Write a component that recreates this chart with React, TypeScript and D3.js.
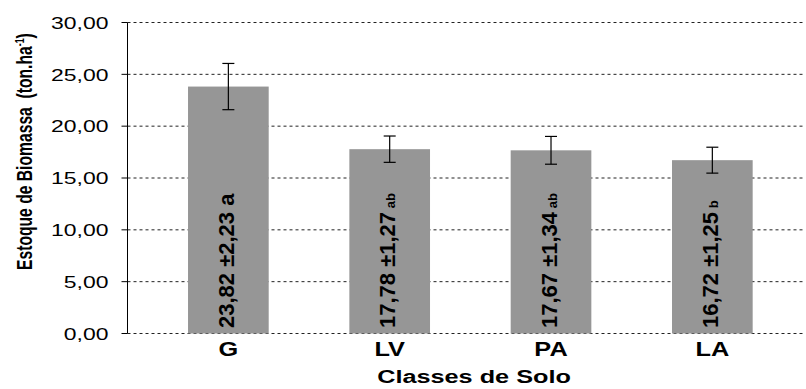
import React from "react";
import * as d3 from "d3";

// Soil classes and biomass stock (mean ± standard error) with Tukey letters
const categories = ["G", "LV", "PA", "LA"];
const means = [23.82, 17.78, 17.67, 16.72];
const errors = [2.23, 1.27, 1.34, 1.25];
const letters = ["a", "ab", "ab", "b"];
const yTicks = [0, 5, 10, 15, 20, 25, 30];

// Letters drawn at full size (true) or as smaller trailing marks (false)
const letterFullSize = [true, false, false, false];

const W = 806;
const H = 389;
const axisX = 127.5;
const gridRight = 805;

const fmt = (v: number) => v.toFixed(2).replace(".", ",");

export default function App() {
  const y = d3.scaleLinear().domain([0, 30]).range([333.5, 22.5]);
  const x = d3
    .scaleBand<string>()
    .domain(categories)
    .range([147.7, 793])
    .paddingInner(0.5)
    .paddingOuter(0.25);

  const font = "'Liberation Sans', Arial, sans-serif";

  return (
    <svg
      width={W}
      height={H}
      style={{ position: "absolute", left: 0, top: 0, background: "#fff" }}
      fontFamily={font}
    >
      {/* horizontal dashed gridlines */}
      {yTicks.map((t) => (
        <line
          key={"g" + t}
          x1={axisX}
          x2={gridRight}
          y1={y(t)}
          y2={y(t)}
          stroke="#222"
          strokeWidth={1}
          strokeDasharray="3,3"
        />
      ))}

      {/* bars */}
      {categories.map((c, i) => (
        <rect
          key={"b" + c}
          x={x(c)}
          y={y(means[i])}
          width={x.bandwidth()}
          height={y(0) - y(means[i])}
          fill="#969696"
        />
      ))}

      {/* error bars */}
      {categories.map((c, i) => {
        const cx = (x(c) as number) + x.bandwidth() / 2;
        const top = y(means[i] + errors[i]);
        const bot = y(means[i] - errors[i]);
        return (
          <g key={"e" + c} stroke="#000" strokeWidth={1.2}>
            <line x1={cx} x2={cx} y1={top} y2={bot} />
            <line x1={cx - 6} x2={cx + 6} y1={top} y2={top} />
            <line x1={cx - 6} x2={cx + 6} y1={bot} y2={bot} />
          </g>
        );
      })}

      {/* value labels inside bars */}
      {categories.map((c, i) => {
        const cx = (x(c) as number) + x.bandwidth() / 2;
        const full = letterFullSize[i];
        return (
          <text
            key={"v" + c}
            transform={`translate(${cx + 5.5},328) rotate(-90)`}
            fontSize={22}
            fontWeight="bold"
            fill="#000"
          >
            {`${fmt(means[i])} ±${fmt(errors[i])}`}
            <tspan fontSize={full ? 22 : 13}>{" " + letters[i]}</tspan>
          </text>
        );
      })}

      {/* y axis */}
      <line x1={axisX} x2={axisX} y1={y(30)} y2={y(0)} stroke="#000" strokeWidth={1} />
      {yTicks.map((t) => (
        <g key={"t" + t}>
          <line x1={axisX - 6} x2={axisX} y1={y(t)} y2={y(t)} stroke="#000" strokeWidth={1} />
          <text
            transform={`translate(108.5,${y(t) + 6.3}) scale(1.35,1)`}
            textAnchor="end"
            fontSize={17}
            fill="#000"
          >
            {fmt(t)}
          </text>
        </g>
      ))}

      {/* category labels */}
      {categories.map((c) => {
        const cx = (x(c) as number) + x.bandwidth() / 2;
        return (
          <text
            key={"c" + c}
            transform={`translate(${cx},355.5) scale(1.3,1)`}
            textAnchor="middle"
            fontSize={19.5}
            fontWeight="bold"
            fill="#000"
          >
            {c}
          </text>
        );
      })}

      {/* axis titles */}
      <text
        transform="translate(474,383) scale(1.33,1)"
        textAnchor="middle"
        fontSize={19}
        fontWeight="bold"
        fill="#000"
      >
        Classes de Solo
      </text>
      <text
        transform="translate(32,270) rotate(-90) scale(0.98,1.35)"
        fontSize={16}
        fontWeight="bold"
        fill="#000"
      >
        {"Estoque de Biomassa\u00a0\u00a0(ton.ha"}
        <tspan fontSize={9} dy={-6}>-1</tspan>
        <tspan dy={6}>)</tspan>
      </text>
    </svg>
  );
}
